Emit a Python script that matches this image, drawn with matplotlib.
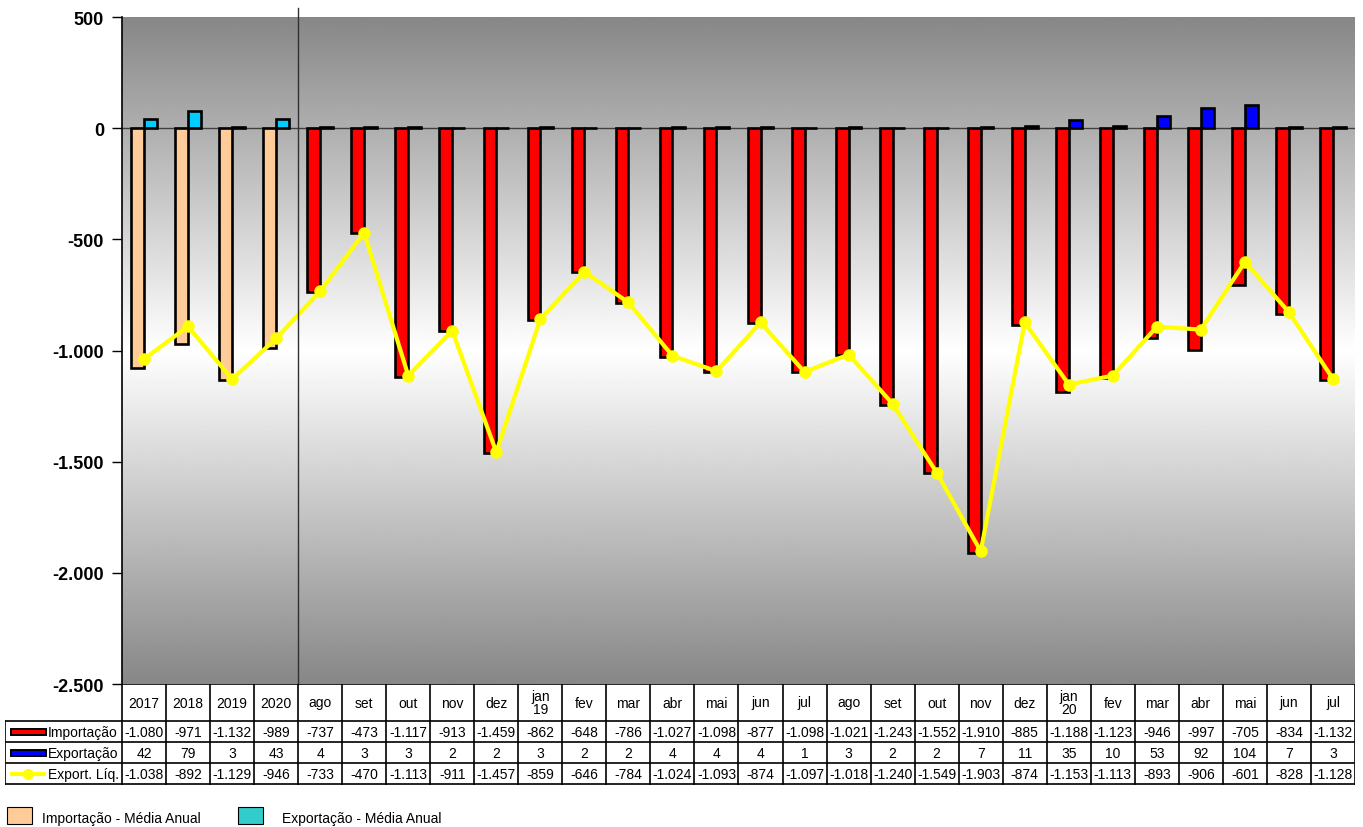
import numpy as np
import matplotlib
matplotlib.use("Agg")
import matplotlib.pyplot as plt
from matplotlib.patches import Rectangle
from matplotlib.lines import Line2D
from matplotlib.ticker import FuncFormatter

plt.rcParams['font.family'] = ['Liberation Sans', 'DejaVu Sans']

# categorias: 4 médias anuais + 24 meses
categorias = ['2017', '2018', '2019', '2020',
              'ago', 'set', 'out', 'nov', 'dez', 'jan\n19', 'fev', 'mar', 'abr', 'mai',
              'jun', 'jul', 'ago', 'set', 'out', 'nov', 'dez', 'jan\n20', 'fev', 'mar',
              'abr', 'mai', 'jun', 'jul']

importacao = [-1080, -971, -1132, -989,
              -737, -473, -1117, -913, -1459, -862, -648, -786, -1027, -1098,
              -877, -1098, -1021, -1243, -1552, -1910, -885, -1188, -1123, -946,
              -997, -705, -834, -1132]

exportacao = [42, 79, 3, 43,
              4, 3, 3, 2, 2, 3, 2, 2, 4, 4,
              4, 1, 3, 2, 2, 7, 11, 35, 10, 53,
              92, 104, 7, 3]

export_liq = [-1038, -892, -1129, -946,
              -733, -470, -1113, -911, -1457, -859, -646, -784, -1024, -1093,
              -874, -1097, -1018, -1240, -1549, -1903, -874, -1153, -1113, -893,
              -906, -601, -828, -1128]

n_anual = 4
W, H = 1363, 828


def fmt(v):
    return f"{v:,}".replace(",", ".")


def fx(px):
    return px / W


def fy(py):
    return 1 - py / H


fig = plt.figure(figsize=(W / 100, H / 100), dpi=100)

# área do gráfico (pixels 122..1355 x 18..685)
ax = fig.add_axes([fx(122), fy(685), fx(1355 - 122), (685 - 18) / H])
n = len(categorias)
x = np.arange(n)
ax.set_xlim(-0.5, n - 0.5)
ax.set_ylim(-2500, 500)

# fundo em degradê: cinza nas bordas, branco no centro
yy = np.linspace(500, -2500, 400)
t = np.abs(yy + 1000) / 1500
g = 1 - 0.47 * t
img = np.repeat(g[:, None], 2, axis=1)
ax.imshow(img, extent=(-0.5, n - 0.5, -2500, 500), aspect='auto', cmap='gray',
          vmin=0, vmax=1, zorder=0, interpolation='bilinear')

cor_imp = ['#FFCC99'] * n_anual + ['#FF0000'] * (n - n_anual)
cor_exp = ['#00CCFF'] * n_anual + ['#0000FF'] * (n - n_anual)
bw = 0.29
ax.bar(x - bw / 2, importacao, width=bw, color=cor_imp, edgecolor='black', linewidth=1.9, zorder=2)
ax.bar(x + bw / 2, exportacao, width=bw, color=cor_exp, edgecolor='black', linewidth=1.9, zorder=2)
ax.axhline(0, color='#404040', linewidth=1, zorder=1)
ax.plot(x, export_liq, color='#FFFF00', linewidth=3, marker='o', markersize=8,
        markeredgecolor='#FFFF00', zorder=3)

# separador entre médias anuais e meses
ax.add_line(Line2D([n_anual - 0.5, n_anual - 0.5], [-2500, 540], color='#303030',
                   linewidth=1, clip_on=False, zorder=4))

ax.set_yticks(np.arange(-2500, 501, 500))
ax.yaxis.set_major_formatter(FuncFormatter(lambda v, p: fmt(int(v))))
ax.tick_params(axis='y', direction='out', length=7, width=1, labelsize=13, pad=6)
for lbl in ax.get_yticklabels():
    lbl.set_fontweight('bold')
ax.set_xticks([])
for s in ['top', 'right', 'bottom']:
    ax.spines[s].set_visible(False)
ax.spines['left'].set_linewidth(1.2)

# tabela de dados abaixo do gráfico
tab = fig.add_axes([fx(5), fy(786), fx(1355 - 5), (786 - 685) / H])
lab_w = (122 - 5) / 44.04
x0 = -0.5 - lab_w
tab.set_xlim(x0, n - 0.5)
tab.set_ylim(786, 685)
tab.axis('off')


def px2x(px):
    return -0.5 + (px - 122) / 44.04


lw = 1.2
linhas = [685, 722, 743, 764, 785]
for k in range(n + 1):
    tab.plot([k - 0.5, k - 0.5], [685, 785], color='black', linewidth=lw)
tab.plot([x0, x0], [722, 785], color='black', linewidth=lw)
tab.plot([-0.5, n - 0.5], [685, 685], color='black', linewidth=lw)
for yl in linhas[1:]:
    tab.plot([x0, n - 0.5], [yl, yl], color='black', linewidth=lw)

for i, c in enumerate(categorias):
    tab.text(i, 703.5, c, ha='center', va='center', fontsize=10, linespacing=0.95)

series = [importacao, exportacao, export_liq]
nomes = ['Importação', 'Exportação', 'Export. Líq.']
for r, (serie, nome) in enumerate(zip(series, nomes)):
    yc = (linhas[r + 1] + linhas[r + 2]) / 2
    for i, v in enumerate(serie):
        tab.text(i, yc + 0.5, fmt(v), ha='center', va='center', fontsize=10)
    tab.text(px2x(48), yc + 0.5, nome, ha='left', va='center', fontsize=10)

# chaves da legenda dentro da tabela
for r, cor in enumerate(['#FF0000', '#0000FF']):
    yc = (linhas[r + 1] + linhas[r + 2]) / 2
    tab.add_patch(Rectangle((px2x(11), yc - 3), (46 - 11) / 44.04, 6,
                            facecolor=cor, edgecolor='black', linewidth=1.4, clip_on=False))
yc = (linhas[3] + linhas[4]) / 2
tab.plot([px2x(10), px2x(46)], [yc, yc], color='#FFFF00', linewidth=3, solid_capstyle='butt')
tab.plot([px2x(28)], [yc], marker='o', markersize=7, color='#FFFF00')

# legenda das médias anuais
fig.patches.append(Rectangle((fx(7), fy(825)), fx(25), 17 / H, facecolor='#FFCC99',
                             edgecolor='black', linewidth=0.8, transform=fig.transFigure))
fig.text(fx(42), fy(819), 'Importação - Média Anual', fontsize=10, va='center', ha='left')
fig.patches.append(Rectangle((fx(238), fy(825)), fx(25), 17 / H, facecolor='#33CCCC',
                             edgecolor='black', linewidth=0.8, transform=fig.transFigure))
fig.text(fx(282), fy(819), 'Exportação - Média Anual', fontsize=10, va='center', ha='left')

fig.savefig('out.png', dpi=100)
